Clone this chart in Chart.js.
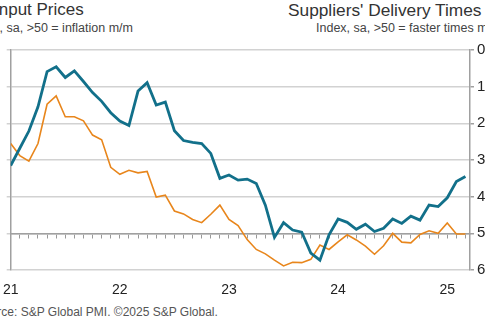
<!DOCTYPE html>
<html>
<head>
<meta charset="utf-8">
<script src="https://cdn.jsdelivr.net/npm/chart.js@4"></script>
<style>
  body { margin: 0; width: 485px; height: 331px; overflow: hidden; background: #fff; position: relative; font-family: "Liberation Sans", Arial, sans-serif; }
  canvas { position: absolute; left: 0; top: 0; }
  .txt { position: absolute; white-space: nowrap; color: #333; }
  #titleL { left: -6px; top: 0px; font-size: 17px; }
  #subL { left: -31px; top: 21px; font-size: 12.5px; color: #444; }
  #titleR { left: 288px; top: 0px; font-size: 17.3px; }
  #subR { left: 316px; top: 21px; font-size: 12.5px; color: #444; }
  #source { left: -24px; top: 305px; font-size: 12px; color: #555; }
</style>
</head>
<body>
<div class="txt" id="titleL">Input Prices</div>
<div class="txt" id="subL">Index, sa, &gt;50 = inflation m/m</div>
<div class="txt" id="titleR">Suppliers' Delivery Times</div>
<div class="txt" id="subR">Index, sa, &gt;50 = faster times m/m</div>
<div class="txt" id="source">Source: S&amp;P Global PMI. ©2025 S&amp;P Global.</div>
<canvas id="chart" width="485" height="331"></canvas>
<script>
// Year labels, one per January (month index 0, 12, 24, ...)
const yearLabels = ["21", "22", "23", "24", "25"];

// Monthly values, Jan 2021 to Mar 2025
const inputPrices = [68.5, 73.2, 77.9, 84.5, 94.1, 95.4, 92.5, 94.3, 91.4, 88.4,
    86.0, 82.9, 80.6, 79.4, 88.8, 91.1, 85.0, 85.8, 78.0, 75.3,
    74.8, 74.5, 71.8, 65.0, 65.9, 64.5, 64.8, 63.6, 57.7, 48.9,
    52.9, 50.9, 50.3, 44.6, 42.7, 49.6, 53.9, 53.0, 51.1, 52.5,
    50.5, 51.4, 53.9, 52.7, 54.7, 53.6, 57.7, 57.3, 59.7, 64.1, 65.5];

const deliveryTimes = [25.5, 28.8, 30.3, 25.5, 14.8, 12.5, 18.2, 18.2, 19.3, 23.2,
    24.5, 32.0, 33.9, 32.8, 33.5, 33.1, 40.1, 39.6, 43.9, 44.7,
    46.2, 47.1, 44.8, 42.3, 46.2, 47.9, 51.7, 54.4, 55.6, 57.3,
    58.9, 57.9, 58.0, 57.1, 53.2, 54.4, 52.3, 50.4, 51.8, 53.5,
    55.7, 53.4, 50.0, 52.4, 52.6, 50.3, 49.3, 50.0, 47.2, 50.2, 50.2];

const leftTicks = [40, 50, 60, 70, 80, 90, 100];
const rightTicks = [0, 10, 20, 30, 40, 50, 60];

// no extra room for the first/last year label, the plot runs to the edges
function noPad(s) {
    s.paddingLeft = 0;
    s.paddingRight = 0;
}

const ctx = document.getElementById("chart").getContext("2d");

const chart = new Chart(ctx, {
    type: 'line',
    data: {
        datasets: [{
            label: 'Input Prices',
            data: inputPrices.map((v, i) => ({ x: i, y: v })),
            borderColor: '#12708a',
            borderWidth: 2.8,
            pointRadius: 0,
            tension: 0,
            yAxisID: 'y'
        }, {
            label: "Suppliers' Delivery Times",
            data: deliveryTimes.map((v, i) => ({ x: i, y: v })),
            borderColor: '#e8861c',
            borderWidth: 1.6,
            pointRadius: 0,
            tension: 0,
            yAxisID: 'y2'
        }]
    },
    options: {
        responsive: false,
        animation: false,
        layout: { padding: { top: 50, left: 0, right: 0, bottom: 0 } },
        plugins: { legend: { display: false }, tooltip: { enabled: false } },
        scales: {
            x: {
                type: 'linear',
                min: 0,
                max: 50.5,
                position: 'bottom',
                grid: { display: false, drawTicks: false },
                border: { display: false },
                afterBuildTicks: s => { s.ticks = yearLabels.map((_, i) => ({ value: i * 12 })); },
                ticks: {
                    padding: 12,
                    maxRotation: 0,
                    color: '#222',
                    font: { family: 'Liberation Sans', size: 14 },
                    callback: v => yearLabels[v / 12]
                },
                afterFit: s => { s.height = 61; noPad(s); }
            },
            xMid: {
                type: 'linear',
                min: 0,
                max: 50.5,
                position: { y: 50 },
                grid: { drawOnChartArea: false, drawTicks: true, tickLength: 4, color: '#999', lineWidth: 1 },
                border: { color: '#a0a0a0', width: 1.5 },
                afterBuildTicks: s => { s.ticks = inputPrices.map((_, i) => ({ value: i })); },
                ticks: { display: false },
                afterFit: noPad
            },
            y: {
                min: 40,
                max: 100,
                position: 'left',
                afterBuildTicks: s => { s.ticks = leftTicks.map(v => ({ value: v })); },
                grid: { color: '#d2d2d2', lineWidth: 1.5, tickLength: 4 },
                border: { color: '#a0a0a0', width: 1.5 },
                ticks: { display: false },
                afterFit: s => { s.width = 10.7; }
            },
            y2: {
                min: 0,
                max: 60,
                reverse: true,
                position: 'right',
                afterBuildTicks: s => { s.ticks = rightTicks.map(v => ({ value: v })); },
                grid: { drawOnChartArea: false, color: '#a0a0a0', lineWidth: 1.5, tickLength: 4 },
                border: { color: '#a0a0a0', width: 1.5 },
                ticks: { color: '#222', padding: 3, font: { family: 'Liberation Sans', size: 15 } },
                afterFit: s => { s.width = 15; }
            }
        }
    }
});
</script>
</body>
</html>
